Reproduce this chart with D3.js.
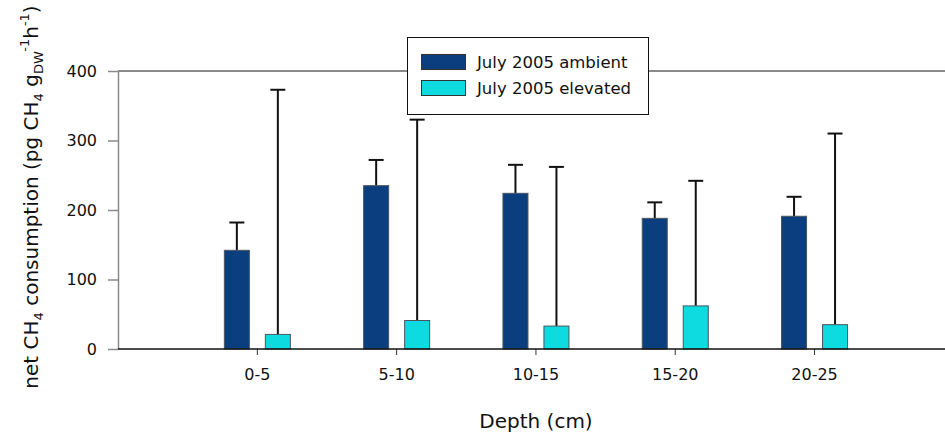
<!DOCTYPE html>
<html>
<head>
<meta charset="utf-8">
<script src="https://cdn.jsdelivr.net/npm/d3@7"></script>
<style>
  html, body { margin: 0; padding: 0; background: #fff; }
  svg { display: block; font-family: "DejaVu Sans", Verdana, sans-serif; }
</style>
</head>
<body>
<svg id="chart" width="945" height="436"></svg>
<script>
// ---- data ----
const categories = ["0-5", "5-10", "10-15", "15-20", "20-25"];
const seriesNames = ["July 2005 ambient", "July 2005 elevated"];
const ambientValues = [142, 235, 224, 188, 191];
const ambientErrors = [40, 37, 41, 23, 28];
const elevatedValues = [21, 41, 33, 62, 35];
const elevatedErrors = [352, 289, 229, 180, 275];
const yTicks = [0, 100, 200, 300, 400];
const seriesColors = ["#0a3e7e", "#0ddbe0"];

const svg = d3.select("#chart");

const plotLeft = 118, plotRight = 945, plotTop = 71, plotBottom = 349;

const y = d3.scaleLinear().domain([0, 400]).range([plotBottom, plotTop]);
const x = d3.scaleBand().domain(categories).range([187.7, 884.2]).padding(0);
const xs = d3.scaleBand().domain(seriesNames).range([0, 66]).paddingInner(0.39);

const center = c => x(c) + x.bandwidth() / 2;

// top border line at 400
svg.append("line")
  .attr("x1", plotLeft).attr("x2", plotRight)
  .attr("y1", y(400)).attr("y2", y(400))
  .attr("stroke", "#8a8a8a").attr("stroke-width", 2);

// y axis
const yAxis = svg.append("g")
  .attr("transform", `translate(${plotLeft},0)`)
  .call(d3.axisLeft(y).tickValues(yTicks).tickSize(10).tickSizeOuter(0).tickPadding(11));
yAxis.select(".domain").attr("stroke", "#8a8a8a").attr("stroke-width", 1.5);
yAxis.selectAll(".tick line").attr("stroke", "#8a8a8a").attr("stroke-width", 1.5);
yAxis.selectAll(".tick text").attr("font-size", 16).attr("fill", "#111")
  .attr("font-family", "DejaVu Sans, sans-serif");

// bars data
const groups = categories.map((c, i) => ({
  cat: c,
  vals: [
    { s: seriesNames[0], v: ambientValues[i], e: ambientErrors[i], col: seriesColors[0] },
    { s: seriesNames[1], v: elevatedValues[i], e: elevatedErrors[i], col: seriesColors[1] }
  ]
}));

const g = svg.selectAll("g.grp").data(groups).enter().append("g")
  .attr("class", "grp")
  .attr("transform", d => `translate(${center(d.cat) - 33},0)`);

// error bars (upper only)
g.selectAll("line.err").data(d => d.vals).enter().append("line")
  .attr("class", "err")
  .attr("x1", d => xs(d.s) + xs.bandwidth() / 2)
  .attr("x2", d => xs(d.s) + xs.bandwidth() / 2)
  .attr("y1", d => y(d.v))
  .attr("y2", d => y(d.v + d.e))
  .attr("stroke", "#111").attr("stroke-width", 2);
g.selectAll("line.cap").data(d => d.vals).enter().append("line")
  .attr("class", "cap")
  .attr("x1", d => xs(d.s) + xs.bandwidth() / 2 - 7.5)
  .attr("x2", d => xs(d.s) + xs.bandwidth() / 2 + 7.5)
  .attr("y1", d => y(d.v + d.e))
  .attr("y2", d => y(d.v + d.e))
  .attr("stroke", "#111").attr("stroke-width", 2);

g.selectAll("rect").data(d => d.vals).enter().append("rect")
  .attr("x", d => xs(d.s))
  .attr("width", xs.bandwidth())
  .attr("y", d => y(d.v))
  .attr("height", d => y(0) - y(d.v))
  .attr("fill", d => d.col)
  .attr("stroke", "#4a5560").attr("stroke-width", 1);

// x axis
const xAxis = svg.append("g")
  .attr("transform", `translate(0,${plotBottom})`)
  .call(d3.axisBottom(x).tickSize(6).tickSizeOuter(0).tickPadding(14));
xAxis.select(".domain").remove();
xAxis.selectAll(".tick line").attr("stroke", "#333");
xAxis.selectAll(".tick text").attr("font-size", 16).attr("fill", "#111")
  .attr("font-family", "DejaVu Sans, sans-serif");
svg.append("line")
  .attr("x1", plotLeft).attr("x2", plotRight)
  .attr("y1", plotBottom).attr("y2", plotBottom)
  .attr("stroke", "#111").attr("stroke-width", 1.5);

// x title
svg.append("text")
  .attr("x", 536).attr("y", 428)
  .attr("text-anchor", "middle")
  .attr("font-size", 20).attr("fill", "#111")
  .text("Depth (cm)");

// y title
const yt = svg.append("text")
  .attr("transform", "translate(38,197) rotate(-90)")
  .attr("text-anchor", "middle")
  .attr("font-size", 20).attr("fill", "#111");
yt.append("tspan").text("net CH");
yt.append("tspan").attr("font-size", 13).attr("dy", 5).text("4");
yt.append("tspan").attr("dy", -5).text(" consumption (pg CH");
yt.append("tspan").attr("font-size", 13).attr("dy", 5).text("4");
yt.append("tspan").attr("dy", -5).text(" g");
yt.append("tspan").attr("font-size", 13).attr("dy", 5).text("DW");
yt.append("tspan").attr("font-size", 13).attr("dy", -14).text("-1");
yt.append("tspan").attr("dy", 9).text("h");
yt.append("tspan").attr("font-size", 13).attr("dy", -9).text("-1");
yt.append("tspan").attr("dy", 9).text(")");

// legend
const leg = svg.append("g");
leg.append("rect")
  .attr("x", 407.5).attr("y", 37.5).attr("width", 241).attr("height", 77)
  .attr("fill", "#fff").attr("stroke", "#111").attr("stroke-width", 1);
const li = leg.selectAll("g.li").data(seriesNames).enter().append("g")
  .attr("class", "li")
  .attr("transform", (d, i) => `translate(0,${i * 26})`);
li.append("rect")
  .attr("x", 421.5).attr("y", 54.5).attr("width", 44).attr("height", 15)
  .attr("fill", (d, i) => seriesColors[i])
  .attr("stroke", "#333").attr("stroke-width", 1);
li.append("text")
  .attr("x", 477).attr("y", 68)
  .attr("font-size", 16.5).attr("fill", "#111")
  .text(d => d);
</script>
</body>
</html>
